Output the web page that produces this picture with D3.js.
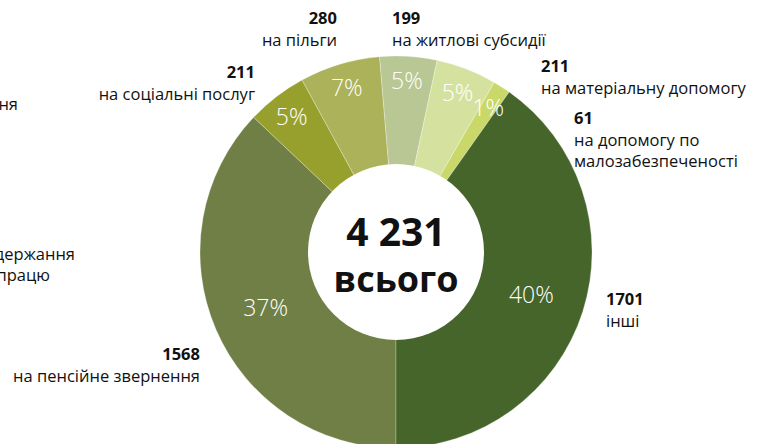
<!DOCTYPE html>
<html>
<head>
<meta charset="utf-8">
<script src="https://cdn.jsdelivr.net/npm/d3@7"></script>
<style>
  html, body { margin: 0; padding: 0; background: #fff; }
  svg { display: block; font-family: "Open Sans", "Noto Sans", sans-serif; }
  .num { font-weight: 700; font-size: 16.5px; fill: #111; }
  .lbl { font-size: 16.5px; fill: #111; }
  .pct { font-size: 23px; font-weight: 300; fill: #fff; }
</style>
</head>
<body>
<svg id="chart" width="766" height="444"></svg>
<script>
// slices in clockwise order, starting from the bottom of the ring
const categories = ["на пенсійне звернення", "на соціальні послуг", "на пільги", "на житлові субсидії",
  "на матеріальну допомогу", "на допомогу по малозабезпеченості", "інші"];
const values = [1568, 211, 280, 199, 211, 61, 1701];
const percents = ["37%", "5%", "7%", "5%", "5%", "1%", "40%"];
const colors = ["#6f7f45", "#98a02d", "#abb25a", "#b8c793", "#d5e29f", "#cad86a", "#46652a"];
const totalLabel = "4 231";
const totalWord = "всього";

const svg = d3.select("#chart");
const cx = 396, cy = 252;
const outerR = 196, innerR = 88;

const g = svg.append("g").attr("transform", `translate(${cx},${cy})`);

const pie = d3.pie().sort(null).value((d) => d)
  .startAngle(Math.PI).endAngle(3 * Math.PI);
const arcs = pie(values);
const arc = d3.arc().innerRadius(0).outerRadius(outerR);

g.selectAll("path.slice")
  .data(arcs)
  .enter()
  .append("path")
  .attr("class", "slice")
  .attr("d", arc)
  .attr("fill", (d, i) => colors[i])
  .attr("stroke", "rgba(255,255,255,0.45)")
  .attr("stroke-width", 0.6);

// white hole
g.append("circle").attr("r", innerR).attr("fill", "#fff");

// percentages: big slices at the ring middle, small ones pushed outward
const midArc = d3.arc().innerRadius(142).outerRadius(142);
const outArc = d3.arc().innerRadius(171).outerRadius(171);
g.selectAll("text.pct")
  .data(arcs)
  .enter()
  .append("text")
  .attr("class", "pct")
  .attr("text-anchor", "middle")
  .attr("dy", "0.35em")
  .attr("transform", (d) => {
    const share = (d.endAngle - d.startAngle) / (2 * Math.PI);
    const p = share > 0.1 ? midArc.centroid(d) : outArc.centroid(d);
    return `translate(${p[0]},${p[1]})`;
  })
  .text((d, i) => percents[i]);

// centre total
g.append("text").attr("text-anchor", "middle").attr("y", -6)
  .attr("font-size", 39).attr("font-weight", 700).attr("fill", "#111")
  .text(totalLabel);
g.append("text").attr("text-anchor", "middle").attr("y", 40)
  .attr("font-size", 36).attr("font-weight", 700).attr("fill", "#111")
  .text(totalWord);

// outside labels (number + text lines)
const labelPos = [
  { x: 200, y: 360, anchor: "end", lines: ["на пенсійне звернення"] },
  { x: 255, y: 78, anchor: "end", lines: ["на соціальні послуг"] },
  { x: 337, y: 24, anchor: "end", lines: ["на пільги"] },
  { x: 392, y: 24, anchor: "start", lines: ["на житлові субсидії"] },
  { x: 541, y: 72, anchor: "start", lines: ["на матеріальну допомогу"] },
  { x: 574, y: 124, anchor: "start", lines: ["на допомогу по", "малозабезпеченості"] },
  { x: 606, y: 305, anchor: "start", lines: ["інші"] },
];

const labels = svg.selectAll("g.label")
  .data(labelPos)
  .enter()
  .append("g")
  .attr("class", "label")
  .attr("transform", (d) => `translate(${d.x},${d.y})`);

labels.append("text").attr("class", "num")
  .attr("text-anchor", (d) => d.anchor)
  .text((d, i) => values[i]);

labels.each(function (d) {
  d.lines.forEach((line, k) => {
    d3.select(this).append("text").attr("class", "lbl")
      .attr("text-anchor", d.anchor)
      .attr("y", 22 + k * 21)
      .text(line);
  });
});

// labels of a neighbouring chart, cut off by the left edge
const cutLabels = [
  { x: 18, y: 110, text: "на оформлення" },
  { x: 75, y: 260, text: "на одержання" },
  { x: 50, y: 281, text: "права на працю" },
];
svg.selectAll("text.cut")
  .data(cutLabels)
  .enter()
  .append("text")
  .attr("class", "lbl")
  .attr("text-anchor", "end")
  .attr("x", (d) => d.x)
  .attr("y", (d) => d.y)
  .text((d) => d.text);
</script>
</body>
</html>
